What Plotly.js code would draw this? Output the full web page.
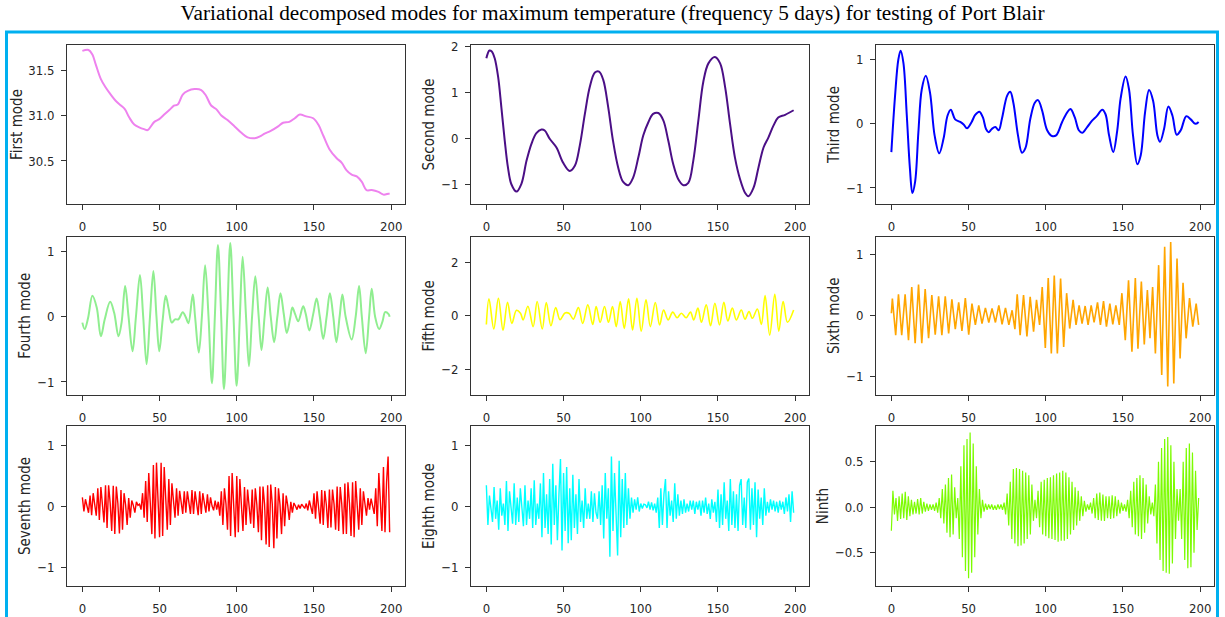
<!DOCTYPE html>
<html>
<head>
<meta charset="utf-8">
<script src="https://cdn.plot.ly/plotly-3.0.1.min.js"></script>
<style>html,body{margin:0;padding:0;background:#fff;}#chart{width:1225px;height:617px;}</style>
</head>
<body>
<div id="chart"></div>
<script>
// ---------------- data ----------------
const chartTitle = "Variational decomposed modes for maximum temperature (frequency 5 days) for testing of Port Blair";
const modeNames = ["First mode","Second mode","Third mode","Fourth mode","Fifth mode","Sixth mode","Seventh mode","Eighth mode","Ninth"];
const modeColors = ["#ee82ee","#4b0f86","#0000ff","#90ee90","#ffff00","#ffa500","#ff0000","#00ffff","#7cfc00"];
const xTickVals = [0,50,100,150,200];

// First mode (smooth trend)
const x1 = [0,4,6.5,8.7,12,15,18.4,21.7,25,27.5,30.3,33.6,36.8,40,42.3,46.6,49.8,53,56.3,59.6,
  61.8,65,68.3,72.6,77,80,83.4,86.7,90,94,98.6,103,107,111.6,115,118,122,126.8,130,134,
  137.6,140.8,145,149.5,152.8,156,160,164.7,168,171,174.4,177.7,181,184,187.4,191.8,195,198.3,199];
const y1 = [31.71,31.72,31.67,31.56,31.40,31.31,31.23,31.16,31.11,31.07,30.98,30.90,30.87,30.85,30.84,30.93,30.96,31.01,31.06,31.11,
  31.12,31.23,31.27,31.29,31.28,31.22,31.11,31.07,31.00,30.95,30.88,30.81,30.76,30.75,30.77,30.80,30.83,30.88,30.92,30.93,
  30.97,31.01,30.99,30.97,30.90,30.78,30.63,30.53,30.48,30.40,30.35,30.33,30.27,30.18,30.18,30.16,30.13,30.14,30.14];

// Second mode
const x2 = [0,2,3.5,5.4,7.6,9.7,11.9,14,16.2,19.5,22.7,26,29.2,32.4,35.7,37.8,41,45.4,49.7,54,
  57.3,60.5,63.8,67,70.3,73,75.7,78.9,82,85.4,88.6,91.9,95,98.4,101.6,104.9,108,111.4,114.6,117.8,
  121,124.3,127.6,130.8,134,137.3,140.5,143.8,148,151.4,154.6,157.8,161,164.3,167.6,169.7,173,176.2,179.5,182.7,
  186,189,193.5,199];
const y2 = [1.74,1.91,1.89,1.74,1.34,0.68,-0.05,-0.64,-1.00,-1.16,-0.99,-0.49,-0.12,0.11,0.19,0.17,-0.01,-0.20,-0.53,-0.71,
  -0.60,-0.16,0.53,1.12,1.43,1.45,1.27,0.68,-0.05,-0.64,-0.95,-1.02,-0.86,-0.42,0.06,0.35,0.53,0.55,0.39,-0.05,
  -0.56,-0.89,-1.02,-0.97,-0.49,0.39,1.23,1.63,1.77,1.63,1.12,0.32,-0.42,-0.89,-1.19,-1.26,-1.08,-0.64,-0.20,0.02,
  0.28,0.45,0.51,0.61];

// Third mode
const x3 = [0,2.4,4.5,6,7.8,10,12,13.6,15.4,17.5,19.7,22.3,25,28,31,33.8,36.4,38.5,41.3,44.6,
  46.8,49,52,54.3,57,59.3,61.3,63,65,67.3,69.5,71.6,75,77,79,82,84.6,86.8,90,92.9,
  95,97.6,100.9,104,106.7,110.6,113.9,116,118.8,121.4,123.6,126.8,130,133,136.6,138.7,141,143.7,146.3,148.5,
  151.7,153.9,156.5,159.3,161.5,164.3,166.9,169.5,172.3,174,176.6,179.4,182,184.8,187.4,191,193.9,196.8,199];
const y3 = [-0.44,0.44,1.00,1.14,0.95,0.13,-0.69,-1.08,-0.90,-0.13,0.54,0.75,0.49,-0.18,-0.46,-0.23,0.13,0.22,0.07,0.03,
  -0.01,-0.07,0.03,0.14,0.19,0.10,-0.08,-0.13,-0.08,-0.05,-0.10,0.08,0.44,0.50,0.33,-0.18,-0.45,-0.38,0.08,0.33,
  0.37,0.21,-0.10,-0.19,-0.18,0.03,0.18,0.23,0.10,-0.10,-0.14,-0.05,0.05,0.12,0.22,0.15,-0.18,-0.44,-0.10,0.40,
  0.74,0.54,-0.18,-0.63,-0.49,0.18,0.53,0.36,-0.18,-0.28,-0.08,0.27,0.13,-0.17,-0.10,0.12,0.07,0.00,0.03];

// Fourth mode
const x4 = [0,1.5,3.7,6.5,9.3,12,14.5,18,20.6,23.4,
  25.4,27.7,29.9,32.5,34.7,37.3,39.4,41.6,43.8,46,
  48,49.8,52,54,55.9,57.9,60,62.2,65,67.2,
  68.7,71.5,73,75.4,77.4,79.5,81.7,83.9,85.8,87.8,
  89.9,91.7,93.8,95.8,97.9,99.9,102,103.8,106,107.9,
  109.9,112,114.2,116,118,120,122,124.2,126.3,128.3,
  130.4,132.4,134.6,136,137.8,139.8,143,144.7,147,149.5,
  151.7,153.8,156,158.2,160.3,162.5,164.5,166.6,168.4,170.5,
  174.4,177,179.2,181,183.5,185.7,187.4,189.6,192.2,194.4,
  196.1,198.3,199];
const y4 = [-0.09,-0.19,-0.02,0.32,0.14,-0.30,-0.04,0.23,0.06,-0.30,
  -0.09,0.47,0.0,-0.53,0.0,0.64,0.0,-0.73,0.0,0.70,
  0.0,-0.53,-0.05,0.32,0.12,-0.09,-0.04,-0.04,0.07,-0.02,
  -0.10,0.34,0.0,-0.55,0.0,0.79,0.0,-1.02,0.0,1.10,
  0.0,-1.11,0.0,1.13,0.0,-1.06,0.0,0.92,0.0,-0.76,
  0.0,0.62,0.0,-0.51,0.0,0.45,0.0,-0.39,0.0,0.36,
  0.05,-0.25,-0.02,0.14,0.04,-0.07,0.16,0.04,-0.21,0.04,
  0.28,0.0,-0.34,0.0,0.36,0.0,-0.39,0.0,0.34,0.0,
  -0.35,0.0,0.47,0.0,-0.56,0.0,0.43,0.0,-0.19,-0.07,
  0.07,0.04,0.00];

// Fifth mode
const x5 = [0,1.7,4.8,7.8,10.8,13.7,16.5,19.5,22.1,23.8,
  26.9,30.3,32.9,36.2,38.8,41.8,44.9,47.7,50.9,53.7,
  56.3,59.6,62.4,65.7,68.9,71.1,73.7,76.5,79.1,81.7,
  84.1,86.7,89.3,92.1,94.7,97.5,100.3,103.4,106.2,109.4,
  112.2,114.8,117.7,120.7,123.5,126.3,129.4,132.2,134.3,137,
  139.3,142.4,145.2,148,151,153.8,156.4,159.3,161.9,165.1,
  167.5,170.1,172.3,175.5,178.1,180.5,183.5,186.8,189.4,192.2,
  195,199];
const y5 = [-0.33,0.63,-0.50,0.65,-0.55,0.50,-0.29,0.20,0.09,-0.16,
  0.35,-0.41,0.53,-0.50,0.49,-0.38,0.30,-0.15,0.10,0.08,
  -0.13,0.30,-0.29,0.40,-0.33,0.34,-0.25,0.34,-0.25,0.34,
  -0.41,0.53,-0.48,0.63,-0.54,0.65,-0.58,0.59,-0.41,0.49,
  -0.35,0.21,-0.16,0.13,-0.08,0.09,-0.08,0.13,-0.16,0.28,
  -0.25,0.40,-0.38,0.46,-0.35,0.50,-0.20,0.28,-0.16,0.21,
  -0.13,0.15,-0.10,0.25,-0.33,0.75,-0.73,0.80,-0.58,0.53,
  -0.25,0.21];

// Sixth mode
const x6 = [0,0.65,2.8,4.6,6.7,8.9,11.1,13.2,15.4,17.6,
  19.7,21.9,24.1,26.2,28.4,30.6,32.7,34.9,37.1,39.2,
  41.4,43.6,45.7,47.9,50.1,52.2,54.4,56.6,58.7,60.9,
  63.1,65.2,67.4,69.6,71.7,73.9,76.1,78.2,80,81.5,
  83.4,85.6,87.8,89.9,92.1,94,96,97.7,99.7,101.6,
  103.6,105.5,107.5,109.6,111.6,113.5,115.5,117.7,119.6,121.6,
  123.5,125.5,127.4,129.4,131.3,133.5,135.4,137.4,139.3,141.5,
  143.4,145.4,147.6,149.3,151.5,153.6,155.8,158,159.7,161.9,
  163.8,165.8,167.5,169.2,171,173.1,175.1,177,179,180.9,
  182.9,185,187,188.9,190.9,193.1,195.2,197.4,199];
const y6 = [0.04,0.28,-0.32,0.35,-0.32,0.35,-0.40,0.47,-0.45,0.51,
  -0.45,0.44,-0.37,0.34,-0.31,0.32,-0.32,0.32,-0.29,0.27,
  -0.22,0.22,-0.25,0.29,-0.31,0.20,-0.15,0.17,-0.13,0.13,
  -0.11,0.12,-0.11,0.17,-0.14,0.13,-0.15,0.09,-0.22,0.35,
  -0.32,0.34,-0.34,0.31,-0.26,0.26,-0.15,0.47,-0.53,0.62,
  -0.62,0.66,-0.62,0.61,-0.51,0.37,-0.21,0.26,-0.15,0.17,
  -0.13,0.16,-0.15,0.17,-0.11,0.22,-0.15,0.24,-0.18,0.20,
  -0.14,0.17,-0.15,0.37,-0.40,0.58,-0.59,0.62,-0.54,0.56,
  -0.47,0.42,-0.37,0.47,-0.62,0.83,-0.97,1.13,-1.16,1.21,
  -1.11,0.94,-0.70,0.54,-0.37,0.29,-0.18,0.20,-0.15];

// Seventh mode (one value per sample, x = 0..199)
const y7 = [0.15,-0.08,0.12,0.02,-0.10, 0.18,-0.14,0.22,0.04,-0.15, 0.30,-0.22,0.32,0.05,-0.26, 0.35,-0.35,0.35,0.06,-0.40,
  0.34,-0.45,0.33,0.05,-0.44, 0.27,-0.38,0.22,0.03,-0.30, 0.14,-0.18,0.10,0.02,-0.10, 0.08,0.02,0.04,-0.05,0.22,
  -0.18,0.42,-0.25,0.55,0.05, -0.45,0.68,-0.52,0.72,0.10, -0.50,0.72,-0.48,0.65,0.05, -0.38,0.45,-0.30,0.38,0.05,
  -0.18,0.30,-0.15,0.26,0.03, -0.12,0.25,-0.10,0.25,0.03, -0.12,0.27,-0.12,0.25,0.02, -0.14,0.25,-0.12,0.22,0.02,
  -0.10,0.20,-0.08,0.15,0.01, -0.06,0.10,-0.05,0.08,-0.15, 0.25,-0.30,0.30,0.05,-0.38, 0.50,-0.48,0.55,0.08,-0.50,
  0.50,-0.42,0.45,0.05,-0.40, 0.32,-0.30,0.28,0.03,-0.28, 0.28,-0.35,0.30,0.03,-0.42, 0.33,-0.55,0.33,0.04,-0.62,
  0.35,-0.66,0.36,0.04,-0.68, 0.32,-0.52,0.30,0.03,-0.45, 0.22,-0.32,0.18,0.02,-0.22, 0.08,-0.10,0.06,0.01,-0.05,
  0.03,-0.03,0.04,0.00,-0.03, 0.05,-0.06,0.10,0.00,-0.12, 0.22,-0.20,0.25,0.03,-0.28, 0.27,-0.30,0.26,0.03,-0.35,
  0.28,-0.34,0.28,0.04,-0.38, 0.33,-0.40,0.32,0.04,-0.45, 0.38,-0.45,0.40,0.05,-0.48, 0.40,-0.50,0.42,0.05,-0.38,
  0.30,-0.30,0.25,0.03,-0.15, 0.14,-0.05,0.13,0.02,-0.12, 0.30,-0.32,0.55,-0.05,-0.40, 0.65,-0.42,0.40,0.82,-0.42];

// Eighth mode (one value per sample)
const y8 = [0.35,-0.30,0.18,-0.05,-0.25,0.32,-0.20,0.10,-0.38,0.30,
  -0.15,0.05,-0.30,0.42,-0.40,0.25,-0.10,-0.28,0.38,-0.30,
  0.15,-0.25,0.30,0.02,-0.32,0.35,-0.30,0.10,-0.20,0.30,
  -0.35,0.43,-0.30,0.05,-0.20,0.38,-0.50,0.55,-0.35,0.20,
  -0.45,0.45,-0.62,0.70,-0.30,0.35,-0.55,0.20,0.78,-0.72,
  0.55,-0.40,0.65,-0.60,0.30,-0.55,0.52,-0.35,0.20,-0.45,
  0.45,-0.25,0.10,-0.35,0.30,-0.20,0.05,-0.20,0.25,-0.25,
  0.22,-0.10,-0.20,0.25,-0.30,0.35,-0.52,0.55,-0.20,0.30,
  -0.82,0.82,-0.40,0.55,-0.30,-0.80,0.75,-0.50,0.45,-0.35,
  0.55,-0.30,0.30,-0.20,0.15,-0.10,0.12,-0.05,0.15,-0.08,
  0.05,-0.03,0.04,0.03,-0.02,0.08,-0.05,0.07,-0.06,0.05,
  -0.10,0.15,-0.35,0.30,-0.30,0.20,0.45,-0.35,0.25,-0.15,
  0.10,-0.25,0.38,-0.20,0.20,-0.15,0.10,-0.12,0.12,-0.10,
  0.05,-0.08,0.10,-0.05,0.10,-0.12,0.08,-0.05,0.10,-0.15,
  0.10,-0.10,0.15,-0.12,0.05,-0.20,0.12,-0.10,0.08,-0.25,
  0.28,-0.35,0.20,-0.30,0.40,-0.20,0.10,-0.40,0.45,-0.30,
  0.25,-0.35,0.20,-0.40,0.35,0.45,-0.30,0.15,-0.35,0.40,
  0.46,-0.38,0.30,-0.30,0.40,-0.50,0.28,-0.20,0.15,-0.30,
  0.30,-0.15,0.08,-0.10,0.12,-0.05,0.10,-0.08,0.08,-0.10,
  0.10,-0.05,0.08,-0.12,0.15,-0.08,0.20,-0.25,0.25,-0.10];

// Ninth mode (one value per sample)
const y9 = [-0.26,0.18,-0.08,0.10,-0.15,0.12,-0.13,0.15,-0.12,0.17,
  -0.14,0.12,-0.10,0.08,-0.08,0.06,-0.07,0.09,-0.08,0.10,
  -0.07,0.06,-0.05,0.04,-0.04,0.03,-0.03,0.03,-0.04,0.05,
  -0.06,0.10,-0.12,0.20,-0.18,0.25,-0.28,0.32,-0.33,0.36,
  -0.30,0.22,-0.12,0.10,-0.35,0.45,-0.55,0.68,-0.70,0.75,
  -0.78,0.82,-0.72,0.70,-0.55,0.45,-0.30,0.20,-0.12,0.08,
  -0.05,0.04,-0.03,0.03,-0.02,0.03,-0.03,0.02,-0.03,0.03,
  -0.02,0.03,-0.03,0.05,-0.08,0.15,-0.20,0.28,-0.35,0.42,
  -0.40,0.43,-0.43,0.42,-0.42,0.40,-0.40,0.38,-0.35,0.35,
  -0.30,0.25,-0.15,0.08,-0.12,0.18,-0.22,0.28,-0.30,0.30,
  -0.32,0.32,-0.34,0.33,-0.35,0.35,-0.36,0.37,-0.38,0.38,
  -0.37,0.40,-0.37,0.38,-0.35,0.33,-0.30,0.28,-0.25,0.22,
  -0.20,0.18,-0.15,0.12,-0.10,0.07,-0.05,0.03,-0.03,0.05,
  -0.07,0.10,-0.12,0.15,-0.14,0.16,-0.15,0.14,-0.15,0.12,
  -0.12,0.12,-0.13,0.13,-0.12,0.12,-0.10,0.08,-0.07,0.05,
  -0.04,0.03,-0.05,0.08,-0.12,0.18,-0.22,0.28,-0.30,0.32,
  -0.32,0.35,-0.35,0.32,-0.28,0.25,-0.18,0.12,-0.08,0.05,
  -0.10,0.25,-0.40,0.50,-0.58,0.65,-0.70,0.75,-0.72,0.77,
  -0.73,0.68,-0.62,0.50,-0.35,0.20,-0.15,0.20,-0.35,0.50,
  -0.58,0.65,-0.67,0.70,-0.66,0.60,-0.50,0.40,-0.25,0.10];

const yTickVals = [[30.5,31.0,31.5],[-1,0,1,2],[-1,0,1],[-1,0,1],[-2,0,2],[-1,0,1],[-1,0,1],[-1,0,1],[-0.5,0,0.5]];

// ---------------- layout (positions / styles) ----------------
const W = 1225, H = 617;
const colPx = [[67,405],[471,809],[876,1214]];
const rowPx = [[45,204],[236.5,395],[426,586]];
const yRanges = [[30.027,31.775],[-1.43,2.03],[-1.25,1.23],[-1.20,1.23],[-2.97,2.96],[-1.30,1.30],[-1.30,1.32],[-1.30,1.32],[-0.866,0.892]];
const xRange = [-9.95,208.95];

const seriesX = [x1,x2,x3,x4,x5,x6,null,null,null];
const seriesY = [y1,y2,y3,y4,y5,y6,y7,y8,y9];
const shapes = ['spline','spline','spline','spline','spline','linear','linear','linear','linear'];
const widths = [2,2,2,2,1.6,1.6,1.4,1.4,1.2];

const tickFont = {family:'DejaVu Sans Condensed, DejaVu Sans, sans-serif', size:13, color:'#262626'};
const titleFont = {family:'DejaVu Sans Condensed, DejaVu Sans, sans-serif', size:15, color:'#262626'};

const traces = [];
const layout = {
  width: W, height: H,
  margin: {l:0, r:0, t:0, b:0},
  paper_bgcolor: '#ffffff', plot_bgcolor: '#ffffff',
  showlegend: false, hovermode: false,
  title: {text: chartTitle, x: 0.5, xanchor: 'center', y: 1 - 13/H, yanchor: 'middle', yref: 'container',
          font: {family: 'Liberation Serif, Times New Roman, serif', size: 21.3, color: '#000000'}},
  shapes: [{type:'rect', xref:'paper', yref:'paper', x0: 6.5/W, x1: 1217.5/W, y0: -0.05, y1: 1 - 32/H,
            line:{color:'#00b0f0', width:3}, fillcolor:'rgba(0,0,0,0)', layer:'above'}],
  annotations: []
};

for (let i = 0; i < 9; i++) {
  const r = Math.floor(i/3), c = i % 3;
  const sfx = i === 0 ? '' : String(i+1);
  const t = {
    type: 'scatter', mode: 'lines',
    y: seriesY[i],
    xaxis: 'x' + sfx, yaxis: 'y' + sfx,
    line: {color: modeColors[i], width: widths[i], shape: shapes[i]},
    name: modeNames[i]
  };
  if (seriesX[i]) t.x = seriesX[i];
  traces.push(t);
  const common = {showline:true, mirror:true, linecolor:'#333333', linewidth:1, ticks:'outside', ticklen:5,
                  tickwidth:1, tickcolor:'#333333', showgrid:false, zeroline:false, tickfont:tickFont,
                  fixedrange:true};
  layout['xaxis' + sfx] = Object.assign({}, common, {
    domain: [colPx[c][0]/W, colPx[c][1]/W], anchor: 'y' + sfx, range: xRange,
    tickmode:'array', tickvals: xTickVals, ticklabelstandoff: 5
  });
  layout['yaxis' + sfx] = Object.assign({}, common, {
    domain: [1 - rowPx[r][1]/H, 1 - rowPx[r][0]/H], anchor: 'x' + sfx, range: yRanges[i],
    tickmode:'array', tickvals: yTickVals[i], tickformat: (i === 0 || i === 8) ? '.1f' : '',
    ticklabelstandoff: 4,
    title: {text: modeNames[i], font: titleFont, standoff: 2}
  });
}

Plotly.newPlot('chart', traces, layout, {displayModeBar:false, staticPlot:true});
</script>
</body>
</html>
